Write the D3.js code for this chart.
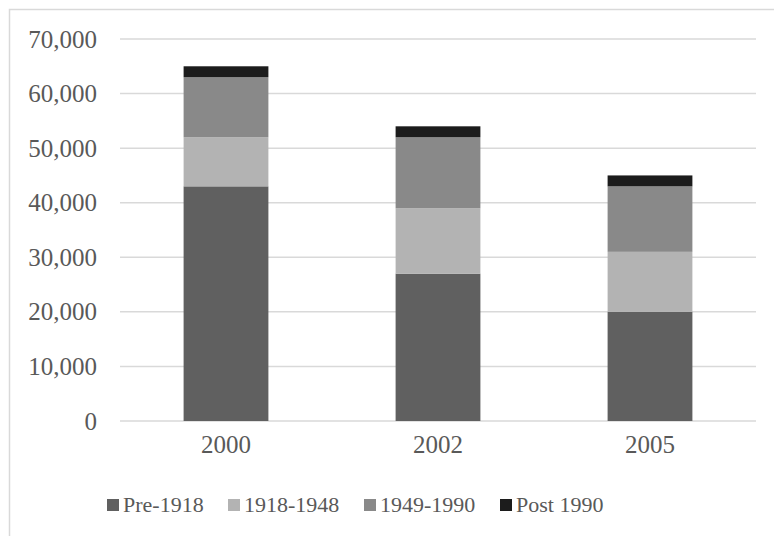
<!DOCTYPE html>
<html>
<head>
<meta charset="utf-8">
<script src="https://cdn.jsdelivr.net/npm/d3@7"></script>
<style>
  body { margin: 0; background: #fff; }
  text { font-family: "Liberation Serif", serif; fill: #595959; }
</style>
</head>
<body>
<svg id="chart" width="774" height="536"></svg>
<script>
// data
var years = ["2000", "2002", "2005"];
var seriesNames = ["Pre-1918", "1918-1948", "1949-1990", "Post 1990"];
var pre1918 = [43000, 27000, 20000];
var y1918to1948 = [9000, 12000, 11000];
var y1949to1990 = [11000, 13000, 12000];
var post1990 = [2000, 2000, 2000];
var yTicks = [0, 10000, 20000, 30000, 40000, 50000, 60000, 70000];
var colors = ["#606060", "#b3b3b3", "#898989", "#1c1c1c"];

var rows = years.map(function(y, i) {
    return {
        year: y,
        "Pre-1918": pre1918[i],
        "1918-1948": y1918to1948[i],
        "1949-1990": y1949to1990[i],
        "Post 1990": post1990[i]
    };
});

var svg = d3.select("#chart");

// chart area border
svg.append("rect")
    .attr("x", 9.5).attr("y", 9.5)
    .attr("width", 800).attr("height", 600)
    .attr("fill", "#fff")
    .attr("stroke", "#d9d9d9")
    .attr("stroke-width", 1.5);

var x = d3.scaleBand().domain(years).range([120, 756]).paddingInner(0.6).paddingOuter(0.3);
var y = d3.scaleLinear().domain([0, 70000]).range([421, 39]);

// gridlines
svg.append("g").selectAll("line")
    .data(yTicks)
    .enter()
    .append("line")
    .attr("x1", 120).attr("x2", 756)
    .attr("y1", function(d) { return y(d); })
    .attr("y2", function(d) { return y(d); })
    .attr("stroke", "#d9d9d9")
    .attr("stroke-width", 1.5);

// y axis labels
var yAxis = svg.append("g")
    .attr("transform", "translate(106,0)")
    .call(d3.axisLeft(y).tickValues(yTicks).tickSize(0).tickPadding(9).tickFormat(d3.format(",")));
yAxis.select(".domain").remove();
yAxis.selectAll("text").attr("font-size", 25).attr("font-family", null).attr("fill", "#595959");

// stacked bars
var stack = d3.stack().keys(seriesNames);
var layers = stack(rows);

svg.append("g").selectAll("g")
    .data(layers)
    .enter()
    .append("g")
    .attr("fill", function(d, i) { return colors[i]; })
    .selectAll("rect")
    .data(function(d) { return d; })
    .enter()
    .append("rect")
    .attr("x", function(d) { return x(d.data.year); })
    .attr("width", x.bandwidth())
    .attr("y", function(d) { return y(d[1]); })
    .attr("height", function(d) { return y(d[0]) - y(d[1]); });

// x axis labels
var xAxis = svg.append("g")
    .attr("transform", "translate(0,421)")
    .call(d3.axisBottom(x).tickSize(0).tickPadding(14));
xAxis.select(".domain").remove();
xAxis.selectAll("text").attr("font-size", 25).attr("font-family", null).attr("fill", "#595959");

// legend
var legendX = [107, 228, 364, 500];
var legend = svg.append("g").selectAll("g")
    .data(seriesNames)
    .enter()
    .append("g")
    .attr("transform", function(d, i) { return "translate(" + legendX[i] + ",499)"; });
legend.append("rect")
    .attr("width", 12).attr("height", 12)
    .attr("fill", function(d, i) { return colors[i]; });
legend.append("text")
    .attr("x", 16).attr("y", 13)
    .attr("font-size", 22)
    .text(function(d) { return d; });
</script>
</body>
</html>
